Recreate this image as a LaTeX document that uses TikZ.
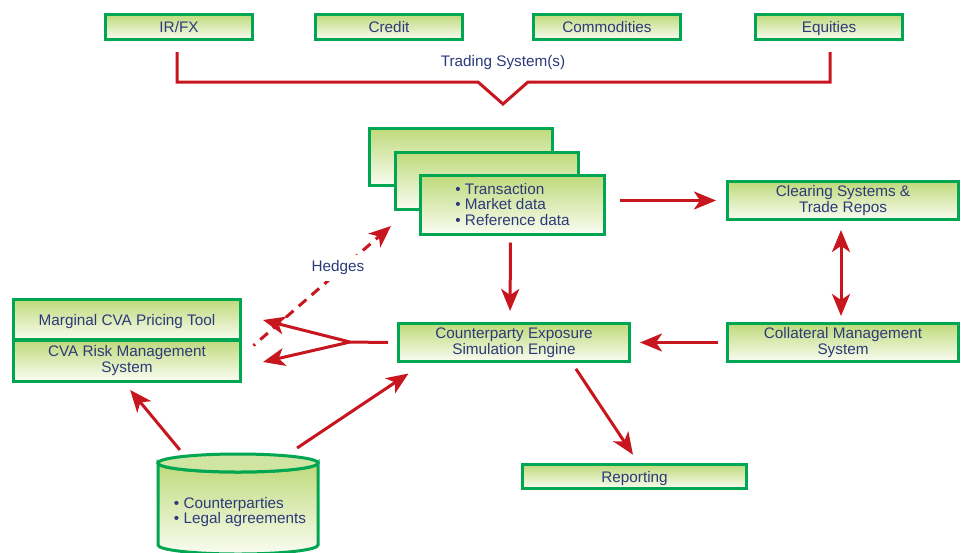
\documentclass[tikz,border=0pt]{standalone}
\usepackage{fontspec}
\setmainfont{Liberation Sans}
\usetikzlibrary{arrows.meta,calc}
\definecolor{bgreen}{RGB}{0,166,81}
\definecolor{ltop}{RGB}{190,218,122}
\definecolor{lbot}{RGB}{250,252,242}
\definecolor{navy}{RGB}{44,58,122}
\definecolor{ared}{RGB}{200,22,30}
\begin{document}
\begin{tikzpicture}[x=1pt,y=-1pt,
 box/.style={draw=bgreen,line width=3pt,top color=ltop,bottom color=lbot,text=navy,align=center,inner sep=0pt,font=\fontsize{15.3}{15.5}\selectfont},
 single/.style={text height=12pt,text depth=1pt},
 lbl/.style={text=navy,inner sep=0pt,font=\fontsize{15.3}{15.5}\selectfont},
 arr/.style={draw=ared,line width=3pt,-{Stealth[length=22pt,width=18pt,inset=6pt]}},
 darr/.style={draw=ared,line width=3pt,<->,>={Stealth[length=22pt,width=18pt,inset=6pt]}},
 redline/.style={draw=ared,line width=3pt}]
\useasboundingbox (0,0) rectangle (968,552);
\fill[white] (0,0) rectangle (968,552);
\clip (0,0) rectangle (968,552);

% top trading system boxes
\node[box,single,minimum width=147pt,minimum height=25pt] (irfx) at (179,27) {IR/FX};
\node[box,single,minimum width=147pt,minimum height=25pt] (credit) at (389,27) {Credit};
\node[box,single,minimum width=147pt,minimum height=25pt] (comm) at (607,27) {Commodities};
\node[box,single,minimum width=147pt,minimum height=25pt] (eq) at (829,27) {Equities};
\draw[redline,line join=miter] ($(irfx.south)+(-2,11)$) |- (478,82) -- (503,104) -- (528,82) -| ($(eq.south)+(1,11)$);
\node[lbl] (ts) at (503,63) {Trading System(s)};

% stacked data boxes
\node[box,minimum width=183pt,minimum height=57pt] (back) at (460.5,157) {};
\node[box,minimum width=183pt,minimum height=57pt] (mid) at (486.5,180.5) {};
\node[box,minimum width=184pt,minimum height=59pt,align=left] (front) at (512.5,204.5) {\textbullet\ Transaction\\\textbullet\ Market data\\\textbullet\ Reference data};

% right column
\node[box,minimum width=231pt,minimum height=38pt] (clear) at (843,200.5) {Clearing Systems \&\\Trade Repos};
\node[box,minimum width=231pt,minimum height=38pt] (coll) at (843,342.5) {Collateral Management\\System};

% engine and reporting
\node[box,minimum width=231pt,minimum height=38pt] (cese) at (514,342.5) {Counterparty Exposure\\Simulation Engine};
\node[box,single,minimum width=224pt,minimum height=24pt] (rep) at (634.5,476.5) {Reporting};

% CVA boxes
\node[box,single,minimum width=227pt,minimum height=40pt] (marg) at (127,319.5) {Marginal CVA Pricing Tool};
\node[box,minimum width=227pt,minimum height=41pt] (cvar) at (127,360.5) {CVA Risk Management\\System};

% database cylinder
\coordinate (db) at (238,503);
\path[top color=ltop,bottom color=lbot,draw=bgreen,line width=3pt]
  (158,463) -- (158,545) .. controls (158,550) and (194,554) .. (238,554)
  .. controls (282,554) and (318,550) .. (318,545) -- (318,463)
  .. controls (318,468) and (282,472) .. (238,472)
  .. controls (194,472) and (158,468) .. (158,463) -- cycle;
\filldraw[fill=ltop!70!white,draw=bgreen,line width=3pt]
  (158,463) .. controls (158,458) and (194,454) .. (238,454)
  .. controls (282,454) and (318,458) .. (318,463)
  .. controls (318,468) and (282,472) .. (238,472)
  .. controls (194,472) and (158,468) .. (158,463) -- cycle;
\node[lbl,align=left] (dbtext) at (240,512) {\textbullet\ Counterparties\\\textbullet\ Legal agreements};

% connectors
\draw[arr,shorten <=14pt,shorten >=10pt] (front.east |- clear.west) -- (clear.west);
\draw[darr,shorten <=9pt,shorten >=6pt] ($(clear.south)+(-2,0)$) -- ($(coll.north)+(-2,0)$);
\draw[arr,shorten <=8pt,shorten >=9pt] (coll.west) -- (cese.east);
\draw[arr,shorten <=7pt,shorten >=11pt] ($(front.south)+(-2,0)$) -- ($(cese.north)+(-4,0)$);
\draw[arr,shorten <=7pt,shorten >=10pt] ($(cese.south)+(58,0)$) -- ($(rep.north)+(4,0)$);
\coordinate (fork) at (350,342);
\draw[redline] ($(cese.west)+(-9,0)$) -- (fork);
\draw[arr] (fork) -- ($(marg.east)+(21,0.5)$);
\draw[arr] (fork) -- ($(cvar.east)+(21,1.5)$);
\draw[arr,dash pattern=on 10pt off 7pt,dash phase=8pt] ($(marg.south east)+(11.5,4.5)$) -- ($(front.south west)+(-28,-9.5)$);
\node[lbl,fill=white,inner xsep=3pt,inner ysep=6pt] (hedges) at (338,268) {Hedges};
\draw[arr,shorten <=4pt,shorten >=9pt] ($(db)+(-55.6,-50)$) -- ($(cvar.south)+(-2.6,0.5)$);
\draw[arr,shorten <=9pt] ($(db)+(51.6,-50)$) -- ($(cese.south west)+(11.5,10.5)$);
\end{tikzpicture}
\end{document}
